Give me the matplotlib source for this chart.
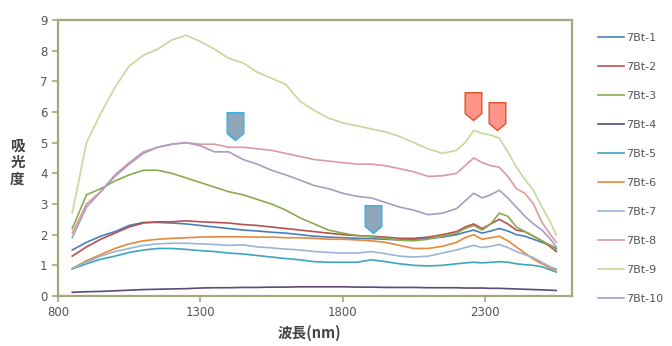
import numpy as np
import matplotlib
matplotlib.use("Agg")
import matplotlib.pyplot as plt
from matplotlib.path import Path

plt.rcParams['font.family'] = ['DejaVu Sans', 'Noto Sans CJK JP']

# wavelength grid (nm)
wl = [850, 900, 950, 1000, 1050, 1100, 1150, 1200, 1250, 1300,
      1350, 1400, 1450, 1500, 1550, 1600, 1650, 1700, 1750, 1800,
      1850, 1900, 1950, 2000, 2050, 2100, 2150, 2200, 2230, 2260,
      2290, 2320, 2350, 2380, 2410, 2440, 2470, 2500, 2530, 2550]

bt1 = [1.5, 1.75, 1.95, 2.1, 2.3, 2.4, 2.4, 2.38, 2.35, 2.3,
       2.25, 2.2, 2.15, 2.12, 2.08, 2.05, 2.0, 1.95, 1.92, 1.9,
       1.88, 1.87, 1.85, 1.83, 1.85, 1.88, 1.92, 2.0, 2.08, 2.15,
       2.05, 2.12, 2.2, 2.12, 2.0, 1.95, 1.85, 1.75, 1.65, 1.55]
bt2 = [1.3, 1.6, 1.85, 2.05, 2.25, 2.38, 2.42, 2.42, 2.45, 2.42,
       2.4, 2.38, 2.33, 2.3, 2.25, 2.2, 2.15, 2.1, 2.05, 2.0,
       1.97, 1.95, 1.92, 1.88, 1.88, 1.92, 2.0, 2.1, 2.25, 2.35,
       2.2, 2.35, 2.5, 2.35, 2.15, 2.1, 1.95, 1.8, 1.6, 1.45]
bt3 = [2.2, 3.3, 3.5, 3.75, 3.95, 4.1, 4.1, 4.0, 3.85, 3.7,
       3.55, 3.4, 3.3, 3.15, 3.0, 2.8, 2.55, 2.35, 2.15, 2.05,
       1.97, 1.93, 1.88, 1.82, 1.8, 1.85, 1.95, 2.05, 2.2, 2.3,
       2.15, 2.35, 2.7, 2.6, 2.25, 2.1, 1.95, 1.8, 1.65, 1.5]
bt4 = [0.12, 0.14, 0.15, 0.17, 0.19, 0.21, 0.22, 0.23, 0.24, 0.26,
       0.27, 0.27, 0.28, 0.28, 0.29, 0.29, 0.3, 0.3, 0.3, 0.3,
       0.29, 0.29, 0.28, 0.28, 0.28, 0.27, 0.27, 0.27, 0.26, 0.26,
       0.26, 0.25, 0.25, 0.24, 0.23, 0.22, 0.21, 0.2, 0.19, 0.18]
bt5 = [0.88, 1.05, 1.2, 1.3, 1.42, 1.5, 1.55, 1.55, 1.52, 1.48,
       1.45, 1.4, 1.37, 1.32, 1.27, 1.22, 1.18, 1.12, 1.1, 1.1,
       1.1, 1.18, 1.12, 1.05, 1.0, 0.98, 1.0, 1.05, 1.08, 1.1,
       1.08, 1.1, 1.12, 1.1, 1.05, 1.02, 1.0, 0.95, 0.85, 0.78]
bt6 = [0.9, 1.15, 1.35, 1.55, 1.7, 1.8, 1.85, 1.88, 1.9, 1.92,
       1.93, 1.93, 1.93, 1.92, 1.92, 1.9, 1.9, 1.88, 1.85, 1.85,
       1.83, 1.8, 1.75, 1.65, 1.55, 1.55, 1.62, 1.75, 1.9, 2.0,
       1.85, 1.9, 1.95, 1.8, 1.6, 1.4, 1.2, 1.05, 0.9, 0.85]
bt7 = [0.9, 1.1, 1.3, 1.45, 1.55, 1.65, 1.7, 1.72, 1.72, 1.7,
       1.68, 1.65, 1.67, 1.6, 1.57, 1.53, 1.5, 1.45, 1.42, 1.4,
       1.4, 1.45, 1.38, 1.3, 1.27, 1.3, 1.4, 1.5, 1.58, 1.65,
       1.58, 1.62, 1.68, 1.58, 1.45, 1.35, 1.25, 1.1, 0.95, 0.88]
bt8 = [2.05, 3.0, 3.4, 3.95, 4.35, 4.7, 4.85, 4.95, 5.0, 4.95,
       4.95, 4.85, 4.85, 4.8, 4.75, 4.65, 4.55, 4.45, 4.4, 4.35,
       4.3, 4.3, 4.25, 4.15, 4.05, 3.9, 3.92, 4.0, 4.25, 4.5,
       4.35, 4.25, 4.2, 3.9, 3.5, 3.35, 3.0, 2.4, 2.0, 1.75]
bt9 = [2.7, 5.0, 5.95, 6.8, 7.5, 7.85, 8.05, 8.35, 8.5, 8.3,
       8.05, 7.75, 7.6, 7.3, 7.1, 6.9, 6.35, 6.05, 5.8, 5.65,
       5.55, 5.45, 5.35, 5.2, 5.0, 4.8, 4.65, 4.75, 5.0, 5.4,
       5.3, 5.25, 5.15, 4.7, 4.2, 3.8, 3.45, 2.9, 2.4, 2.0]
bt10 = [1.9, 2.9, 3.4, 3.9, 4.3, 4.65, 4.85, 4.95, 5.0, 4.9,
        4.7, 4.7, 4.45, 4.3, 4.1, 3.95, 3.78, 3.6, 3.5, 3.35,
        3.25, 3.2, 3.05, 2.9, 2.8, 2.65, 2.7, 2.85, 3.1, 3.35,
        3.2, 3.3, 3.45, 3.2, 2.9, 2.6, 2.35, 2.15, 1.85, 1.6]

series = [bt1, bt2, bt3, bt4, bt5, bt6, bt7, bt8, bt9, bt10]
labels = ['7Bt-1', '7Bt-2', '7Bt-3', '7Bt-4', '7Bt-5',
          '7Bt-6', '7Bt-7', '7Bt-8', '7Bt-9', '7Bt-10']
colors = ['#4a7ebb', '#b9504e', '#8aab4a', '#5b4a7a', '#3ea5c0',
          '#e8883a', '#9ab4d6', '#dc9aa0', '#c4d89a', '#a99cc2']

# arrow markers (tip position)
blue_x = [1420, 1907]
blue_y = [5.08, 2.05]
red_x = [2258, 2342]
red_y = [5.73, 5.40]

fig = plt.figure(figsize=(6.72, 3.46), dpi=100)
ax = fig.add_axes([0.0863, 0.1445, 0.7647, 0.7977])

for y, lab, c in zip(series, labels, colors):
    ax.plot(wl, y, color=c, lw=1.2, label=lab)

# pentagon pointing down, tip at origin
pent = Path([(-0.3, 1.0), (0.3, 1.0), (0.3, 0.25), (0.0, 0.0),
             (-0.3, 0.25), (-0.3, 1.0)],
            [Path.MOVETO, Path.LINETO, Path.LINETO, Path.LINETO,
             Path.LINETO, Path.CLOSEPOLY])
ax.plot(blue_x, blue_y, ls='none', marker=pent, ms=40,
        mfc='#8ea6ba', mec='#33b2e8', mew=1.0)
ax.plot(red_x, red_y, ls='none', marker=pent, ms=40,
        mfc='#ff9488', mec='#e0502e', mew=1.0)

ax.set_xlim(800, 2605)
ax.set_ylim(0, 9)
ax.set_xticks([800, 1300, 1800, 2300])
ax.set_yticks(range(10))
for s in ax.spines.values():
    s.set_color('#a8a67c')
    s.set_linewidth(1.6)
ax.tick_params(colors='#a8a67c', labelcolor='#555555', labelsize=8.5,
               length=4, width=1.2)

fig.text(0.026, 0.532, '吸\n光\n度', family=['Noto Sans CJK JP'],
         fontsize=10.5, fontweight='bold', color='#444444',
         ha='center', va='center', linespacing=1.05)
fig.text(0.46, 0.038, '波長(nm)', family=['Noto Sans CJK JP'],
         fontsize=10.5, fontweight='bold', color='#444444',
         ha='center', va='center')

handles, labs = ax.get_legend_handles_labels()
leg = fig.legend(handles[:10], labs[:10], loc='upper left',
                 bbox_to_anchor=(0.884, 0.918), frameon=False,
                 fontsize=8, labelspacing=1.71, handlelength=2.3,
                 handletextpad=0.2, borderaxespad=0)
for t in leg.get_texts():
    t.set_color('#555555')

fig.savefig('out.png', dpi=100)
